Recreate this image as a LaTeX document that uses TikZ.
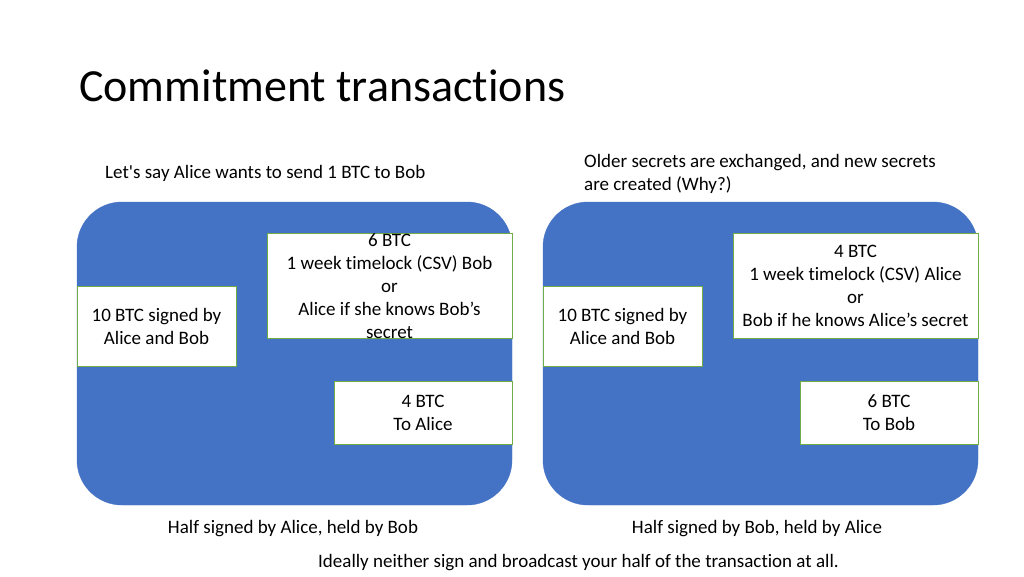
\documentclass[tikz,border=0pt]{standalone}
\usepackage{fontspec}
\setmainfont[Ligatures={NoCommon}]{Carlito}
\newfontfamily\plainfont[Ligatures={NoCommon}]{Carlito}
\begin{document}
\begin{tikzpicture}[x=1pt,y=-1pt,
  txt/.style={font=\fontsize{19}{23}\selectfont, text=black, inner sep=0pt},
  panel/.style={fill=blueA, draw=blueA, rounded corners=45pt},
  wbox/.style={fill=white, draw=greenA, line width=0.8pt, inner sep=0pt, align=center, font=\fontsize{19}{23}\selectfont}]
\definecolor{blueA}{HTML}{4472C4}
\definecolor{greenA}{HTML}{70AD47}
\useasboundingbox (0,0) rectangle (1024,576);
\fill[white] (0,0) rectangle (1024,576);
\node[anchor=west, inner sep=0pt, font=\fontsize{46}{54}\selectfont] (title) at (79,86) {Commitment transactions};
\node[txt, anchor=west] (intro) at (105,173) {Let{\plainfont '}s say Alice wants to send 1 BTC to Bob};
\node[txt, anchor=west, align=left] (older) at (584,173.5) {Older secrets are exchanged, and new secrets\\are created (Why?)};
% left panel
\draw[panel] (77,202) rectangle (512,505);
\node[wbox, minimum width=159pt, minimum height=80pt] (l10) at (156.5,326) {10 BTC signed by\\Alice and Bob};
\node[wbox, minimum width=245pt, minimum height=105pt] (l6) at (389.5,285.5) {};
\node[txt, align=center] (l6t) at (389.5,286.5) {6 BTC\\1 week timelock (CSV) Bob\\or\\Alice if she knows Bob’s\\secret};
\node[wbox, minimum width=178pt, minimum height=63pt] (l4) at (423,412.5) {4 BTC\\To Alice};
% right panel
\draw[panel] (543,202) rectangle (978,505);
\node[wbox, minimum width=159pt, minimum height=80pt] (r10) at (622.5,326) {10 BTC signed by\\Alice and Bob};
\node[wbox, minimum width=245pt, minimum height=105pt] (r4) at (855.5,285.5) {4 BTC\\1 week timelock (CSV) Alice\\or\\Bob if he knows Alice’s secret};
\node[wbox, minimum width=178pt, minimum height=63pt] (r6) at (889,412.5) {6 BTC\\To Bob};
% captions
\node[txt] (capl) at (293,529) {Half signed by Alice, held by Bob};
\node[txt] (capr) at (757,529) {Half signed by Bob, held by Alice};
\node[txt] (ideal) at (578.5,563) {Ideally neither sign and broadcast your half of the transaction at all.};
\end{tikzpicture}
\end{document}
